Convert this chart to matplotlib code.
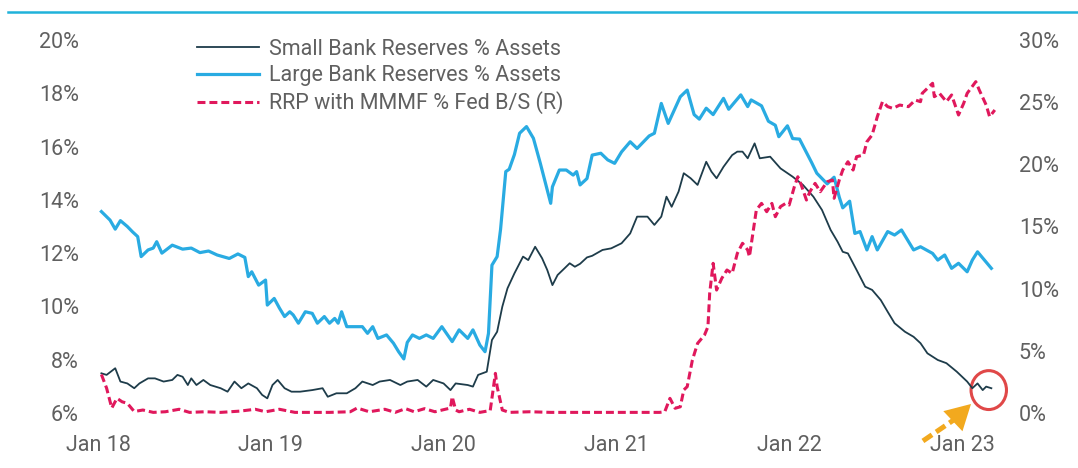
import matplotlib
matplotlib.use("Agg")
import matplotlib.pyplot as plt
from matplotlib.lines import Line2D
from matplotlib.patches import Ellipse, FancyArrowPatch
from matplotlib.ticker import FuncFormatter

plt.rcParams['font.family'] = ['Roboto', 'DejaVu Sans']

# x values are in fractional years (2018.0 = Jan 18)
small_x = [2018.02, 2018.05, 2018.10, 2018.13, 2018.17, 2018.21, 2018.24, 2018.29, 2018.33, 2018.38,
           2018.43, 2018.46, 2018.49, 2018.52, 2018.54, 2018.57, 2018.61, 2018.65, 2018.71, 2018.75,
           2018.79, 2018.83, 2018.87, 2018.92, 2018.95, 2018.98, 2019.01, 2019.04, 2019.08, 2019.12,
           2019.17, 2019.24, 2019.30, 2019.33, 2019.38, 2019.44, 2019.49, 2019.53, 2019.59, 2019.63,
           2019.69, 2019.75, 2019.79, 2019.85, 2019.90, 2019.94, 2020.00, 2020.04, 2020.07, 2020.14,
           2020.17, 2020.20, 2020.25, 2020.28, 2020.31, 2020.34, 2020.37, 2020.41, 2020.46, 2020.49,
           2020.53, 2020.57, 2020.60, 2020.63, 2020.66, 2020.70, 2020.73, 2020.76, 2020.79, 2020.83,
           2020.86, 2020.92, 2020.97, 2021.03, 2021.08, 2021.12, 2021.18, 2021.22, 2021.26, 2021.29,
           2021.32, 2021.36, 2021.39, 2021.43, 2021.47, 2021.52, 2021.55, 2021.58, 2021.62, 2021.67,
           2021.70, 2021.73, 2021.76, 2021.80, 2021.83, 2021.89, 2021.95, 2022.02, 2022.08, 2022.14,
           2022.19, 2022.24, 2022.28, 2022.31, 2022.34, 2022.39, 2022.44, 2022.48, 2022.53, 2022.57,
           2022.61, 2022.67, 2022.72, 2022.76, 2022.80, 2022.86, 2022.91, 2022.97, 2023.03, 2023.06,
           2023.09, 2023.12, 2023.14, 2023.17]
small_y = [7.49, 7.43, 7.68, 7.18, 7.11, 6.93, 7.11, 7.30, 7.30, 7.18,
           7.24, 7.43, 7.36, 7.05, 7.30, 7.05, 7.24, 7.05, 6.93, 6.80,
           7.18, 6.93, 7.11, 6.93, 6.68, 6.55, 7.05, 7.24, 6.93, 6.80,
           6.80, 6.86, 6.93, 6.61, 6.74, 6.74, 6.93, 7.18, 7.05, 7.18,
           7.24, 7.05, 7.18, 7.24, 6.99, 7.24, 7.11, 6.86, 7.11, 7.05,
           6.99, 7.43, 7.55, 8.74, 9.05, 9.99, 10.68, 11.24, 11.87, 11.74,
           12.24, 11.81, 11.37, 10.80, 11.18, 11.43, 11.62, 11.49, 11.60, 11.84,
           11.90, 12.12, 12.18, 12.37, 12.74, 13.37, 13.37, 13.06, 13.37, 14.12,
           13.74, 14.31, 15.00, 14.81, 14.56, 15.43, 15.06, 14.81, 15.24, 15.68,
           15.81, 15.81, 15.56, 16.12, 15.56, 15.62, 15.18, 14.87, 14.56, 14.12,
           13.62, 12.87, 12.43, 12.05, 11.99, 11.37, 10.74, 10.62, 10.24, 9.80,
           9.37, 9.05, 8.86, 8.62, 8.24, 7.99, 7.87, 7.55, 7.18, 6.93,
           7.11, 6.86, 6.99, 6.93]

large_x = [2018.02, 2018.07, 2018.10, 2018.13, 2018.17, 2018.20, 2018.23, 2018.25, 2018.29, 2018.32,
           2018.34, 2018.37, 2018.43, 2018.49, 2018.54, 2018.59, 2018.64, 2018.69, 2018.76, 2018.81,
           2018.85, 2018.87, 2018.89, 2018.93, 2018.97, 2018.98, 2019.02, 2019.05, 2019.08, 2019.11,
           2019.13, 2019.16, 2019.20, 2019.24, 2019.27, 2019.31, 2019.34, 2019.37, 2019.39, 2019.41,
           2019.44, 2019.48, 2019.53, 2019.56, 2019.59, 2019.62, 2019.67, 2019.71, 2019.74, 2019.77,
           2019.79, 2019.82, 2019.86, 2019.90, 2019.94, 2019.99, 2020.05, 2020.09, 2020.14, 2020.17,
           2020.21, 2020.24, 2020.26, 2020.28, 2020.31, 2020.33, 2020.36, 2020.38, 2020.41, 2020.44,
           2020.48, 2020.52, 2020.56, 2020.60, 2020.62, 2020.63, 2020.67, 2020.71, 2020.75, 2020.77,
           2020.79, 2020.83, 2020.86, 2020.91, 2020.95, 2020.99, 2021.03, 2021.08, 2021.12, 2021.16,
           2021.19, 2021.22, 2021.26, 2021.30, 2021.33, 2021.37, 2021.41, 2021.45, 2021.48, 2021.52,
           2021.56, 2021.62, 2021.65, 2021.72, 2021.76, 2021.78, 2021.84, 2021.88, 2021.92, 2021.94,
           2021.99, 2022.02, 2022.06, 2022.13, 2022.16, 2022.22, 2022.26, 2022.29, 2022.31, 2022.35,
           2022.38, 2022.41, 2022.45, 2022.48, 2022.51, 2022.57, 2022.61, 2022.65, 2022.72, 2022.76,
           2022.83, 2022.86, 2022.90, 2022.94, 2022.98, 2023.03, 2023.06, 2023.09, 2023.13, 2023.17]
large_y = [13.56, 13.24, 12.90, 13.22, 13.00, 12.80, 12.62, 11.87, 12.12, 12.19,
           12.43, 12.00, 12.30, 12.15, 12.19, 12.02, 12.08, 11.93, 11.80, 11.97,
           11.84, 11.12, 11.30, 10.80, 10.99, 10.05, 10.30, 9.94, 9.62, 9.80,
           9.68, 9.37, 9.80, 9.74, 9.37, 9.62, 9.37, 9.55, 9.37, 9.80,
           9.24, 9.24, 9.24, 8.99, 9.24, 8.80, 8.93, 8.62, 8.30, 8.03,
           8.65, 8.93, 8.80, 8.93, 8.80, 9.24, 8.68, 9.12, 8.80, 9.12,
           8.55, 8.30, 8.99, 11.55, 11.87, 12.90, 15.06, 15.15, 15.70, 16.50,
           16.75, 16.31, 15.37, 14.37, 13.87, 14.49, 15.12, 15.12, 14.93, 15.06,
           14.56, 14.80, 15.68, 15.75, 15.50, 15.37, 15.80, 16.18, 15.93, 16.20,
           16.40, 16.50, 17.62, 16.87, 17.30, 17.87, 18.12, 17.20, 17.03, 17.44,
           17.20, 17.81, 17.40, 17.94, 17.50, 17.75, 17.53, 16.95, 16.80, 16.37,
           16.78, 16.30, 16.28, 15.40, 15.00, 14.60, 14.85, 14.10, 13.70, 13.95,
           12.74, 12.81, 12.12, 12.62, 12.12, 12.81, 12.68, 12.87, 12.12, 12.24,
           11.99, 11.74, 11.93, 11.43, 11.62, 11.30, 11.74, 12.05, 11.74, 11.43]

rrp_x = [2018.02, 2018.05, 2018.08, 2018.11, 2018.14, 2018.17, 2018.21, 2018.26, 2018.32, 2018.39,
         2018.47, 2018.53, 2018.62, 2018.71, 2018.82, 2018.91, 2018.97, 2019.05, 2019.14, 2019.23,
         2019.34, 2019.46, 2019.50, 2019.57, 2019.66, 2019.72, 2019.78, 2019.83, 2019.89, 2019.95,
         2020.01, 2020.04, 2020.05, 2020.07, 2020.09, 2020.15, 2020.21, 2020.27, 2020.30, 2020.31,
         2020.34, 2020.38, 2020.50, 2020.62, 2020.73, 2020.91, 2021.08, 2021.25, 2021.28, 2021.31,
         2021.34, 2021.37, 2021.39, 2021.41, 2021.44, 2021.47, 2021.51, 2021.53, 2021.54, 2021.56,
         2021.58, 2021.61, 2021.64, 2021.67, 2021.70, 2021.73, 2021.76, 2021.77, 2021.79, 2021.81,
         2021.84, 2021.87, 2021.90, 2021.92, 2021.95, 2021.98, 2022.00, 2022.03, 2022.05, 2022.07,
         2022.10, 2022.12, 2022.15, 2022.18, 2022.22, 2022.25, 2022.26, 2022.29, 2022.31, 2022.34,
         2022.37, 2022.39, 2022.43, 2022.45, 2022.48, 2022.51, 2022.54, 2022.57, 2022.60, 2022.64,
         2022.69, 2022.73, 2022.76, 2022.77, 2022.83, 2022.84, 2022.87, 2022.91, 2022.94, 2022.98,
         2023.01, 2023.03, 2023.08, 2023.10, 2023.14, 2023.16, 2023.19]
rrp_y = [3.10, 2.00, 0.40, 1.18, 0.90, 0.78, 0.12, 0.24, 0.05, 0.10,
         0.30, 0.05, 0.10, 0.05, 0.15, 0.30, 0.10, 0.30, 0.05, 0.05,
         0.05, 0.10, 0.40, 0.10, 0.30, 0.05, 0.35, 0.10, 0.35, 0.10,
         0.30, 0.40, 1.31, 0.24, 0.10, 0.30, 0.05, 0.20, 3.19, 2.12,
         0.24, 0.05, 0.10, 0.05, 0.05, 0.05, 0.05, 0.05, 0.10, 1.18,
         0.38, 0.50, 1.85, 2.12, 4.26, 5.60, 6.27, 6.94, 9.63, 12.04,
         9.89, 10.83, 11.50, 11.23, 12.84, 13.65, 13.11, 12.57, 14.45, 16.33,
         16.86, 16.19, 16.86, 15.79, 16.60, 16.86, 16.73, 18.20, 19.00, 18.34,
         17.13, 17.80, 18.47, 17.80, 18.60, 18.74, 17.27, 18.74, 19.54, 20.21,
         19.54, 20.61, 20.75, 21.82, 22.36, 23.83, 25.04, 24.64, 24.50, 24.77,
         24.64, 25.17, 25.04, 25.71, 26.52, 25.44, 25.71, 25.04, 25.58, 23.97,
         24.91, 25.71, 26.65, 25.98, 24.77, 23.83, 24.37]

year_ticks = [2018, 2019, 2020, 2021, 2022, 2023]
year_labels = ['Jan 18', 'Jan 19', 'Jan 20', 'Jan 21', 'Jan 22', 'Jan 23']
left_ticks = [6, 8, 10, 12, 14, 16, 18, 20]
right_ticks = [0, 5, 10, 15, 20, 25, 30]

dark = '#1e3c4a'
cyan = '#29abe2'
red = '#e0185c'
grey = '#606060'

fig = plt.figure(figsize=(10.78, 4.68), dpi=100)
ax = fig.add_axes([90 / 1078, 55 / 468, 915 / 1078, 373 / 468])
ax2 = ax.twinx()

l1, = ax.plot(small_x, small_y, color=dark, lw=1.3, label='Small Bank Reserves % Assets')
l2, = ax.plot(large_x, large_y, color=cyan, lw=2.3, label='Large Bank Reserves % Assets')
l3, = ax2.plot(rrp_x, rrp_y, color=red, lw=2.2, dashes=(2.6, 1.3), clip_on=False,
               label='RRP with MMMF % Fed B/S (R)')

ax.set_xlim(2017.954, 2023.249)
ax.set_ylim(6, 20)
ax2.set_ylim(0, 30)
ax.set_xticks(year_ticks)
ax.set_xticklabels(year_labels)
ax.set_yticks(left_ticks)
ax2.set_yticks(right_ticks)
ax.yaxis.set_major_formatter(FuncFormatter(lambda v, p: '%d%%' % v))
ax2.yaxis.set_major_formatter(FuncFormatter(lambda v, p: '%d%%' % v))

for a in (ax, ax2):
    for s in a.spines.values():
        s.set_visible(False)
    a.tick_params(length=0, labelsize=15.5, labelcolor=grey)
ax.tick_params(axis='x', pad=16)
ax.tick_params(axis='y', pad=8)
ax2.tick_params(axis='y', pad=10)

leg = ax2.legend(handles=[l1, l2, l3], loc='upper left', bbox_to_anchor=(197 / 1078, 1 - 39 / 468),
                 bbox_transform=fig.transFigure, frameon=False, fontsize=15.5,
                 handlelength=2.9, handletextpad=0.45, labelspacing=0.24, borderpad=0, borderaxespad=0)
for t in leg.get_texts():
    t.set_color(grey)

# red circle around the latest small bank reading
ax.add_patch(Ellipse((2023.155, 6.86), 0.205, 1.46, fill=False, ec='#e04848', lw=2.2, clip_on=False))

# orange dashed arrow pointing at the circle
orange = '#f2a91e'
ax.plot([2022.774, 2022.975], [4.95, 5.84], color=orange, lw=3.6, dashes=(2.2, 1.0),
        solid_capstyle='butt', clip_on=False)
ax.add_patch(FancyArrowPatch((2022.965, 5.80), (2023.064, 6.41), arrowstyle='-|>,head_width=0.5,head_length=0.9',
                             mutation_scale=20, color=orange, lw=0, clip_on=False))

# cyan rule across the top
fig.add_artist(Line2D([8 / 1078, 1.0], [1 - 12 / 468, 1 - 12 / 468], color='#20b2da', lw=1.8))

fig.savefig('out.png', dpi=100, facecolor='white')
